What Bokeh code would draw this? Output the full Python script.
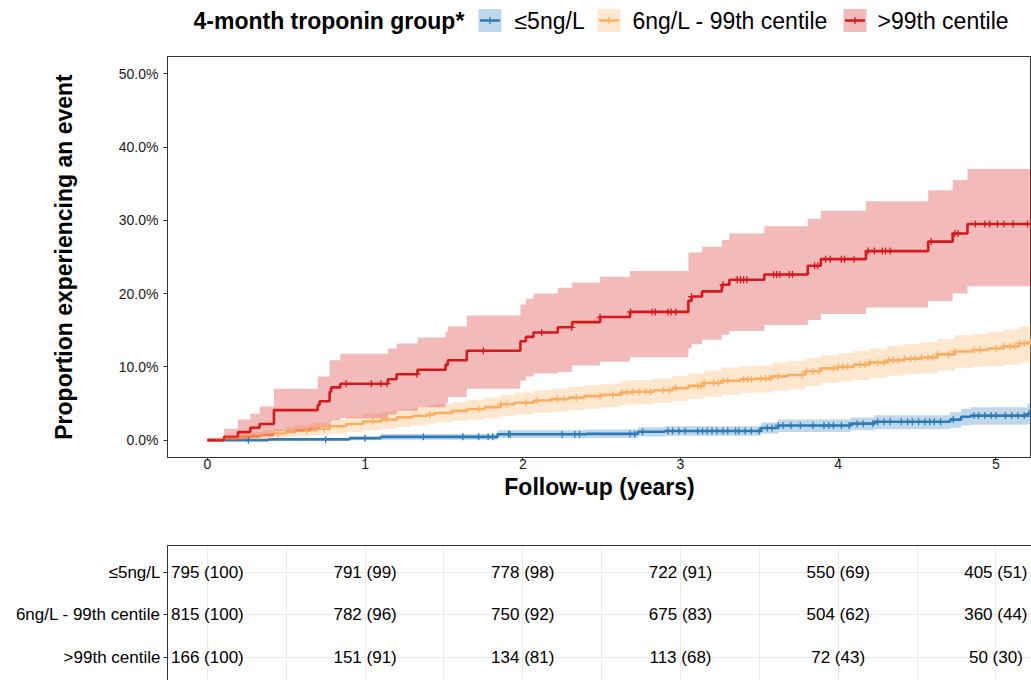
import numpy as np
from bokeh.plotting import figure
from bokeh.layouts import column
from bokeh.models import Range1d, FixedTicker, NumeralTickFormatter, ColumnDataSource, LinearAxis
from bokeh.core.properties import value
from bokeh.embed import file_html
from bokeh.resources import INLINE

# ---------------- data ----------------
groups = ["≤5ng/L", "6ng/L - 99th centile", ">99th centile"]
colors = ["#2C7BB6", "#FDAE61", "#D7191C"]
legend_title = "4-month troponin group*"

# cumulative incidence (%), step times in years
bl_t = [0, 0.385, 0.90, 1.10, 1.84, 2.40, 2.73, 2.90, 3.51, 3.62, 4.08, 4.23, 4.71, 4.78, 4.84, 5.20, 5.25]
bl_est = [0, 0.1, 0.25, 0.45, 0.8, 0.85, 1.15, 1.25, 1.65, 2.0, 2.25, 2.5, 2.8, 3.2, 3.35, 3.6, 3.6]
bl_lo = [0, 0, 0, 0.05, 0.3, 0.3, 0.5, 0.6, 0.9, 1.1, 1.35, 1.5, 1.7, 2.0, 2.1, 2.2, 2.2]
bl_hi = [0, 0.3, 0.55, 0.85, 1.35, 1.45, 1.75, 1.9, 2.4, 2.8, 3.1, 3.4, 3.8, 4.3, 4.5, 5.0, 5.0]

or_t = [0, 0.05, 0.11, 0.20, 0.27, 0.35, 0.42, 0.50, 0.56, 0.65, 0.775, 0.88, 0.987, 1.10, 1.20,
        1.30, 1.39, 1.44, 1.55, 1.65, 1.76, 1.86, 1.95, 2.07, 2.18, 2.29, 2.39, 2.50, 2.62, 2.69,
        2.83, 2.95, 3.05, 3.15, 3.26, 3.38, 3.47, 3.58, 3.68, 3.79, 3.89, 4.00, 4.10, 4.20, 4.31,
        4.42, 4.52, 4.63, 4.74, 4.85, 4.95, 5.05, 5.15, 5.22, 5.25]
or_est = [0, 0.1, 0.3, 0.45, 0.55, 0.7, 0.9, 1.1, 1.3, 1.55, 1.9, 2.2, 2.55, 2.8, 3.1,
          3.3, 3.5, 3.7, 4.0, 4.25, 4.5, 4.9, 5.1, 5.4, 5.6, 5.8, 6.0, 6.2, 6.5, 6.6,
          6.8, 7.1, 7.4, 7.8, 8.1, 8.3, 8.4, 8.7, 8.9, 9.4, 9.8, 10.0, 10.3, 10.6, 10.9,
          11.1, 11.3, 11.7, 12.1, 12.3, 12.5, 12.8, 13.2, 13.4, 13.4]
or_lo = [0, 0, 0, 0.05, 0.1, 0.2, 0.3, 0.4, 0.5, 0.7, 0.9, 1.1, 1.3, 1.5, 1.8,
         2.0, 2.2, 2.4, 2.6, 2.8, 3.0, 3.3, 3.5, 3.7, 3.9, 4.1, 4.3, 4.5, 4.8, 4.9,
         5.1, 5.3, 5.6, 5.9, 6.2, 6.4, 6.5, 6.7, 6.9, 7.4, 7.8, 8.0, 8.2, 8.5, 8.8,
         9.0, 9.1, 9.5, 9.8, 10.0, 10.1, 10.3, 10.6, 10.7, 10.7]
or_hi = [0, 0.3, 0.6, 0.9, 1.1, 1.3, 1.5, 1.8, 2.0, 2.3, 2.8, 3.2, 3.6, 3.9, 4.2,
         4.5, 4.7, 4.9, 5.2, 5.5, 5.8, 6.2, 6.5, 6.8, 7.0, 7.3, 7.5, 7.7, 8.1, 8.2,
         8.4, 8.8, 9.1, 9.5, 9.9, 10.1, 10.2, 10.6, 10.8, 11.2, 11.6, 11.9, 12.2, 12.5, 12.9,
         13.1, 13.4, 13.8, 14.3, 14.5, 14.8, 15.1, 15.5, 15.8, 15.8]

rd_t = [0, 0.106, 0.194, 0.272, 0.331, 0.422, 0.700, 0.712, 0.775, 0.785, 0.843, 1.145, 1.200,
        1.333, 1.510, 1.525, 1.645, 1.985, 2.020, 2.068, 2.222, 2.313, 2.490, 2.680, 3.050,
        3.070, 3.137, 3.262, 3.310, 3.532, 3.807, 3.890, 4.176, 4.571, 4.726, 4.820, 5.25]
rd_est = [0, 0.46, 1.1, 1.7, 2.2, 4.1, 4.8, 5.3, 6.6, 7.2, 7.7, 8.3, 9.0,
          9.6, 10.3, 10.9, 12.2, 13.5, 14.1, 14.7, 15.4, 16.1, 16.8, 17.5, 19.0,
          19.6, 20.3, 21.2, 21.9, 22.6, 23.8, 24.7, 25.8, 27.1, 28.2, 29.5, 29.5]
rd_lo = [0, 0, 0.1, 0.3, 0.5, 1.2, 1.5, 1.8, 2.4, 2.7, 3.0, 3.5, 4.0,
         4.5, 5.0, 5.9, 7.0, 8.1, 8.7, 9.1, 9.3, 10.2, 10.7, 11.3, 12.5,
         13.1, 13.7, 14.4, 14.9, 15.7, 16.4, 17.2, 18.1, 19.0, 20.0, 21.0, 21.0]
rd_hi = [0.2, 1.55, 2.8, 3.6, 4.6, 7.0, 8.7, 8.7, 10.9, 10.9, 11.8, 12.5, 13.2,
         14.0, 14.8, 15.5, 17.0, 18.5, 19.3, 20.0, 20.8, 21.5, 22.3, 23.1, 25.6,
         25.6, 26.4, 27.3, 28.2, 29.2, 30.2, 31.3, 32.6, 34.1, 35.5, 37.0, 37.0]

# censoring times (years)
bl_cens = [0.26, 0.75, 1.0, 1.37, 1.62, 1.72, 1.78, 1.81, 1.91, 1.92, 2.25, 2.33, 2.36, 2.68, 2.71,
           2.76, 2.92, 2.95, 2.99, 3.03, 3.11, 3.14, 3.17, 3.20, 3.23, 3.27, 3.30, 3.35, 3.37, 3.41,
           3.45, 3.50, 3.55, 3.58, 3.62, 3.65, 3.70, 3.76, 3.84, 3.91, 3.94, 3.97, 4.02, 4.07, 4.12,
           4.16, 4.22, 4.25, 4.29, 4.33, 4.40, 4.44, 4.47, 4.51, 4.55, 4.58, 4.61, 4.65, 4.73, 4.86,
           4.89, 4.93, 4.97, 5.00, 5.06, 5.10, 5.14, 5.18, 5.21]
or_cens = [0.45, 0.63, 0.68, 0.74, 0.78, 1.05, 1.14, 1.41, 1.72, 1.86, 1.90, 2.02, 2.09, 2.22, 2.26,
           2.34, 2.49, 2.57, 2.63, 2.66, 2.70, 2.74, 2.78, 2.81, 2.89, 2.93, 2.97, 3.11, 3.13, 3.15,
           3.21, 3.24, 3.27, 3.30, 3.40, 3.43, 3.45, 3.51, 3.54, 3.57, 3.62, 3.77, 3.80, 3.84, 3.88,
           3.97, 4.00, 4.03, 4.06, 4.14, 4.17, 4.20, 4.25, 4.29, 4.32, 4.35, 4.38, 4.42, 4.46, 4.49,
           4.53, 4.57, 4.60, 4.63, 4.70, 4.74, 4.86, 4.90, 5.00, 5.05, 5.09, 5.12, 5.15, 5.18, 5.22]
rd_cens = [0.88, 1.04, 1.10, 1.14, 1.33, 1.75, 2.12, 2.31, 2.49, 2.683, 2.82, 2.84, 2.92, 2.94, 2.97,
           3.07, 3.27, 3.36, 3.38, 3.40, 3.42, 3.59, 3.61, 3.63, 3.69, 3.71, 3.85, 3.87, 3.92, 3.95,
           4.02, 4.04, 4.10, 4.19, 4.23, 4.28, 4.30, 4.33, 4.59, 4.74, 4.76, 4.87, 4.93, 4.96, 5.01,
           5.05, 5.11, 5.20]

# number at risk table
table_times = [0, 1, 2, 3, 4, 5]
bl_risk = [795, 791, 778, 722, 550, 405]
bl_pct = [100, 99, 98, 91, 69, 51]
or_risk = [815, 782, 750, 675, 504, 360]
or_pct = [100, 96, 92, 83, 62, 44]
rd_risk = [166, 151, 134, 113, 72, 50]
rd_pct = [100, 91, 81, 68, 43, 30]

x_ticks = [0, 1, 2, 3, 4, 5]
y_ticks = [0, 0.1, 0.2, 0.3, 0.4, 0.5]

# ---------------- styling ----------------
FONT = "Liberation Sans"
W = 1031
LEFT = 167
DARK = "#333333"
TXT = "#1a1a1a"

series = [
    (bl_t, bl_est, bl_lo, bl_hi, bl_cens, colors[0]),
    (or_t, or_est, or_lo, or_hi, or_cens, colors[1]),
    (rd_t, rd_est, rd_lo, rd_hi, rd_cens, colors[2]),
]

x_range = Range1d(-0.253, 5.226)

# ---------------- legend row (x in page pixels) ----------------
LEG_H = 54
leg = figure(width=W, height=LEG_H, x_range=Range1d(LEFT, W), y_range=Range1d(0, LEG_H),
             toolbar_location=None, output_backend="svg",
             min_border_left=LEFT, min_border_right=0, min_border_top=0, min_border_bottom=0)
leg.axis.visible = False
leg.grid.visible = False
leg.outline_line_color = None
LY = LEG_H - 20
leg.text(x=[193], y=[LY], text=[legend_title], text_font=value(FONT), text_font_style="bold",
         text_font_size="23px", text_baseline="middle", text_align="left", text_color="black")
key_x = [489.5, 608.5, 854.5]
lab_x = [514, 632, 877]
leg.rect(x=key_x, y=[LY] * 3, width=23, height=23, fill_color=colors, fill_alpha=0.3, line_color=None)
leg.segment(x0=[k - 10 for k in key_x], x1=[k + 10 for k in key_x], y0=[LY] * 3, y1=[LY] * 3,
            line_color=colors, line_width=2.5)
leg.segment(x0=key_x, x1=key_x, y0=[LY - 3.5] * 3, y1=[LY + 3.5] * 3, line_color=colors, line_width=1.3)
leg.text(x=lab_x, y=[LY] * 3, text=groups, text_font=value(FONT), text_font_size="23px",
         text_baseline="middle", text_align="left", text_color="black")

# ---------------- main plot ----------------
p = figure(width=W, height=471, x_range=x_range, y_range=Range1d(-0.0237, 0.5236),
           toolbar_location=None, output_backend="svg",
           min_border_left=LEFT, min_border_right=0, min_border_top=2, min_border_bottom=68)
p.grid.visible = False
p.outline_line_color = DARK
p.outline_line_width = 1

def step_poly(t, lo, hi):
    xs, y1, y2 = [], [], []
    for i in range(len(t)):
        if i > 0:
            xs.append(t[i]); y1.append(lo[i - 1] / 100); y2.append(hi[i - 1] / 100)
        xs.append(t[i]); y1.append(lo[i] / 100); y2.append(hi[i] / 100)
    return xs, y1, y2

for t_, est, lo, hi, cens, c in series:
    p.step(x=t_, y=[v / 100 for v in est], mode="after", line_color=c, line_width=2.6)

for t_, est, lo, hi, cens, c in series:
    xs, y1, y2 = step_poly(t_, lo, hi)
    p.varea(x=xs, y1=y1, y2=y2, fill_color=c, fill_alpha=0.3)

for t_, est, lo, hi, cens, c in series:
    idx = np.searchsorted(np.array(t_), np.array(cens), side="right") - 1
    cy = [est[i] / 100 for i in idx]
    p.scatter(x=cens, y=cy, marker="cross", size=7, line_color=c, line_width=1.3)

for ax in (p.xaxis[0], p.yaxis[0]):
    ax.axis_line_color = DARK
    ax.major_tick_line_color = DARK
    ax.major_tick_in = 0
    ax.minor_tick_out = 0
    ax.minor_tick_in = 0
    ax.major_label_text_font = FONT
    ax.major_label_text_font_size = "14px"
    ax.major_label_text_color = TXT
    ax.axis_label_text_font = FONT
    ax.axis_label_text_font_size = "23px"
    ax.axis_label_text_font_style = "bold"
    ax.axis_label_text_color = "black"

p.xaxis.ticker = FixedTicker(ticks=x_ticks)
p.xaxis.axis_label = "Follow-up (years)"
p.xaxis.major_tick_out = 3
p.xaxis.major_label_standoff = -2
p.xaxis.axis_label_standoff = 2
p.yaxis.ticker = FixedTicker(ticks=y_ticks)
p.yaxis.formatter = NumeralTickFormatter(format="0.0%")
p.yaxis.axis_label = "Proportion experiencing an event"
p.yaxis.major_tick_out = 4
p.yaxis.major_label_standoff = 5
p.yaxis.axis_label_standoff = 39

# ---------------- risk table ----------------
tb = figure(width=W, height=155, x_range=x_range, y_range=Range1d(0.459, 3.635),
            toolbar_location=None, output_backend="svg",
            min_border_left=LEFT, min_border_right=0, min_border_top=20, min_border_bottom=0)
tb.xaxis.visible = False
tb.outline_line_color = None
top_ax = LinearAxis(ticker=FixedTicker(ticks=[]), major_label_text_font_size="0px",
                    major_tick_out=0, major_tick_in=0, minor_tick_out=0, minor_tick_in=0,
                    axis_line_color=DARK)
tb.add_layout(top_ax, "above")
row_y = {groups[0]: 3, groups[1]: 2, groups[2]: 1}
tb.yaxis.ticker = FixedTicker(ticks=[1, 2, 3])
tb.yaxis.major_label_overrides = {row_y[g]: g for g in groups}
tb.yaxis.major_label_text_font = FONT
tb.yaxis.major_label_text_font_size = "17px"
tb.yaxis.major_label_text_color = "black"
tb.yaxis.major_label_standoff = 3
tb.yaxis.axis_line_color = DARK
tb.yaxis.major_tick_line_color = DARK
tb.yaxis.major_tick_out = 4
tb.yaxis.major_tick_in = 0
tb.yaxis.minor_tick_out = 0
tb.yaxis.minor_tick_in = 0
tb.xgrid.ticker = FixedTicker(ticks=[0, 0.5, 1, 1.5, 2, 2.5, 3, 3.5, 4, 4.5, 5])
tb.ygrid.ticker = FixedTicker(ticks=[1, 2, 3])
tb.grid.grid_line_color = "#EBEBEB"
tb.grid.grid_line_width = 1

tx, ty, tt = [], [], []
for g, risk, pct in ((groups[0], bl_risk, bl_pct), (groups[1], or_risk, or_pct), (groups[2], rd_risk, rd_pct)):
    for tm, n, pc in zip(table_times, risk, pct):
        tx.append(tm); ty.append(row_y[g]); tt.append(f"{n} ({pc})")
tsrc = ColumnDataSource(dict(x=tx, y=ty, text=tt))
tb.text(x="x", y="y", text="text", source=tsrc, text_font=value(FONT), text_font_size="17px",
        text_align="center", text_baseline="middle", text_color="black")

layout = column(leg, p, tb, spacing=0)
open("out.html", "w").write(file_html(layout, INLINE))
